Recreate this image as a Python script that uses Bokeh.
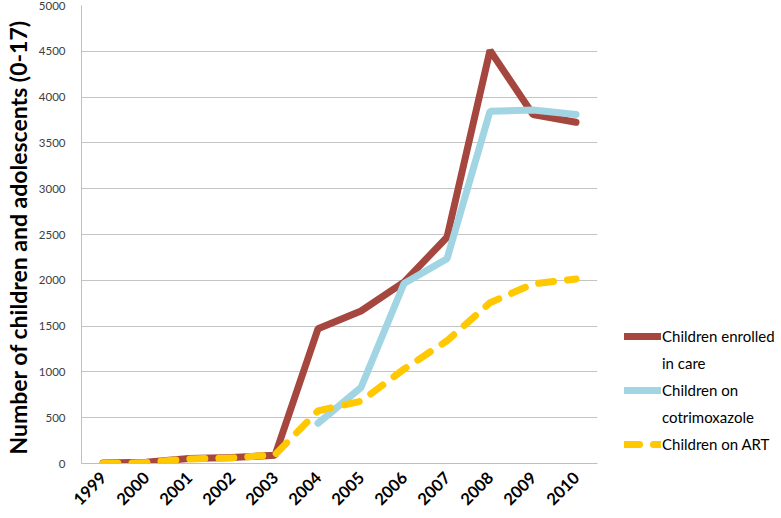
import math
from bokeh.plotting import figure
from bokeh.models import Legend, LegendItem, FactorRange
from bokeh.embed import file_html
from bokeh.resources import INLINE

years = ["1999", "2000", "2001", "2002", "2003", "2004", "2005", "2006", "2007", "2008", "2009", "2010"]
enrolled = [5, 15, 55, 65, 90, 1470, 1665, 1980, 2470, 4510, 3810, 3725]
cotrim = [float("nan")] * 5 + [440, 830, 1965, 2235, 3845, 3860, 3810]
art = [0, 10, 50, 60, 95, 575, 680, 1030, 1340, 1755, 1960, 2015]

FONT = "Lato"

p = figure(frame_width=516, frame_height=458, x_range=FactorRange(*years), y_range=(0, 5000),
           output_backend="svg", toolbar_location=None,
           min_border_left=74, min_border_top=5, min_border_right=0, min_border_bottom=50)
p.outline_line_color = None
p.background_fill_color = "white"

r1 = p.line(years, enrolled, line_color="#A5463F", line_width=7, line_cap="round")
r2 = p.line(years, cotrim, line_color="#A2D5E3", line_width=7, line_cap="round")
r3 = p.line(years, art, line_color="#FFC800", line_width=7, line_cap="round", line_dash="15 14")
# empty, transparent renderer used only for the wrapped second lines of legend labels
blank = p.line([], [], line_alpha=0)

p.xgrid.grid_line_color = None
p.ygrid.grid_line_color = "#C4C4C4"
p.ygrid.grid_line_width = 1
p.yaxis.ticker = [0, 500, 1000, 1500, 2000, 2500, 3000, 3500, 4000, 4500, 5000]
p.yaxis.axis_label = "Number of children  and adolescents (0-17)"
p.yaxis.axis_label_text_font = FONT
p.yaxis.axis_label_text_font_style = "bold"
p.yaxis.axis_label_text_font_size = "23px"
p.yaxis.axis_label_text_color = "black"
p.yaxis.axis_label_standoff = 4
p.yaxis.major_label_text_font = FONT
p.yaxis.major_label_text_font_size = "11.5px"
p.yaxis.major_label_text_color = "#404040"
p.yaxis.axis_line_color = "#BFBFBF"
p.yaxis.major_tick_line_color = None
p.yaxis.minor_tick_line_color = None
p.yaxis.major_label_standoff = 10

p.xaxis.axis_line_color = "#BFBFBF"
p.xaxis.major_tick_line_color = None
p.xaxis.minor_tick_line_color = None
p.xaxis.major_label_orientation = math.pi / 4
p.xaxis.major_label_text_font = FONT
p.xaxis.major_label_text_font_style = "bold"
p.xaxis.major_label_text_font_size = "16.5px"
p.xaxis.major_label_text_color = "black"
p.xaxis.major_label_standoff = 5

legend = Legend(items=[
    LegendItem(label="Children enrolled", renderers=[r1]),
    LegendItem(label="in care", renderers=[blank]),
    LegendItem(label="Children on", renderers=[r2]),
    LegendItem(label="cotrimoxazole", renderers=[blank]),
    LegendItem(label="Children on ART", renderers=[r3]),
], location=(27, 10))
legend.border_line_color = None
legend.background_fill_alpha = 0
legend.label_text_font = FONT
legend.label_text_font_size = "15px"
legend.label_text_color = "black"
legend.glyph_width = 37
legend.glyph_height = 18
legend.label_height = 18
legend.label_standoff = 1
legend.spacing = 9
legend.padding = 0
legend.margin = 27
p.add_layout(legend, "right")

open("out.html", "w").write(file_html(p, INLINE))
